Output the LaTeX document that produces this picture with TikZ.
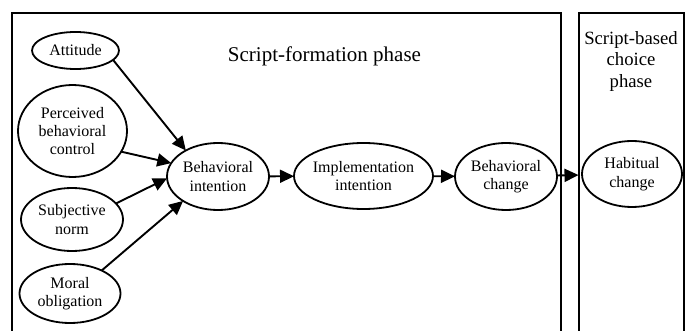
\documentclass[tikz,border=0pt]{standalone}
\usepackage{fontspec}
\setmainfont{Liberation Serif}
\usetikzlibrary{shapes.geometric,arrows.meta}
\tikzset{
  ell/.style={draw, ellipse, line width=1.8pt, inner sep=0pt, inner xsep=-4pt, outer sep=0pt,
    align=center, font=\fontsize{16}{18.4}\selectfont},
  arr/.style={line width=1.9pt, -{Triangle[length=14pt,width=13pt]}},
  boxline/.style={line width=1.8pt}
}
\begin{document}
\begin{tikzpicture}[x=1pt,y=-1pt]
\useasboundingbox (0,0) rectangle (694,331);
% phase boxes (open at the bottom edge)
\coordinate (b1a) at (12,331);
\coordinate (b1b) at (12,13);
\coordinate (b1c) at (561,13);
\coordinate (b1d) at (561,331);
\draw[boxline] (b1a) -- (b1b) -- (b1c) -- (b1d);
\coordinate (b2a) at (579,331);
\coordinate (b2b) at (579,13);
\coordinate (b2c) at (684,13);
\coordinate (b2d) at (684,331);
\draw[boxline] (b2a) -- (b2b) -- (b2c) -- (b2d);
% titles
\node[anchor=base, inner sep=0pt, font=\fontsize{21}{24}\selectfont] (t1) at (324.5,62) {Script-formation phase};
\node[anchor=north, inner sep=0pt, align=center, font=\fontsize{18.7}{21.5}\selectfont] (t2) at (631,31) {Script-based\\choice\\phase};
% ellipses
\node[ell, minimum width=87pt, minimum height=37pt] (att) at (75.5,50.5) {Attitude};
\node[ell, minimum width=109pt, minimum height=92pt] (pbc) at (72.5,131) {Perceived\\behavioral\\control};
\node[ell, minimum width=102pt, minimum height=63pt] (sn) at (72,219.5) {Subjective\\norm};
\node[ell, minimum width=101pt, minimum height=59pt] (mo) at (70,293.5) {Moral\\obligation};
\node[ell, minimum width=102pt, minimum height=67pt] (bi) at (218,176.5) {Behavioral\\intention};
\node[ell, minimum width=139pt, minimum height=66pt] (ii) at (363.5,176) {Implementation\\intention};
\node[ell, minimum width=102pt, minimum height=67pt] (bc) at (506,176.5) {Behavioral\\change};
\node[ell, minimum width=100pt, minimum height=66pt] (hc) at (632,174) {Habitual\\change};
% arrows
\draw[arr] (att.-14) -- (bi.141);
\draw[arr] (pbc.-23) -- (bi.164);
\draw[arr] (sn.20) -- (bi.182);
\draw[arr] (mo.36) -- (bi.215);
\draw[arr] (bi) -- (ii);
\draw[arr] (ii) -- (bc);
\draw[arr, shorten >=3.5pt] (bc) -- (hc);
\end{tikzpicture}
\end{document}
